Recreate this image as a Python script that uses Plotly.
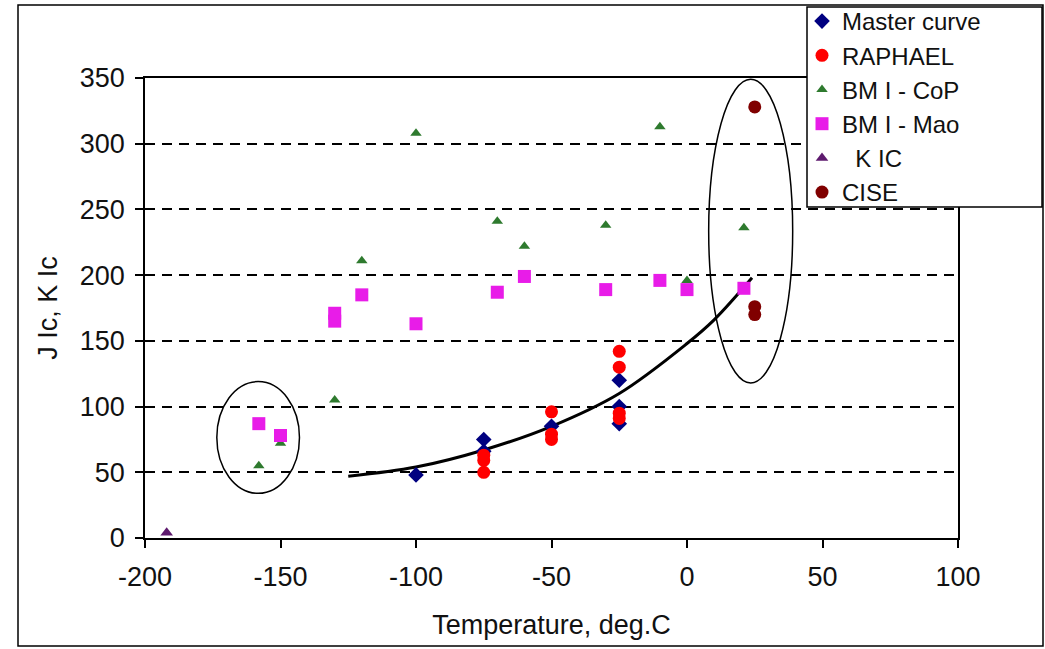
import plotly.graph_objects as go

# ---- data ----
master_x = [-100, -75, -75, -50, -25, -25, -25]
master_y = [48, 75, 66, 85, 120, 100, 87]

raphael_x = [-75, -75, -75, -50, -50, -50, -25, -25, -25, -25]
raphael_y = [50, 59, 63, 96, 79, 75, 142, 130, 95, 91]

cop_x = [-158, -150, -130, -120, -100, -70, -60, -30, -10, 0, 21]
cop_y = [55, 72, 105, 211, 308, 241, 222, 238, 313, 196, 236]

mao_x = [-158, -150, -130, -130, -120, -100, -70, -60, -30, -10, 0, 21]
mao_y = [87, 78, 171, 165, 185, 163, 187, 199, 189, 196, 189, 190]

kic_x = [-192]
kic_y = [4]

cise_x = [25, 25, 25]
cise_y = [328, 176, 170]

curve_x = [-125, -100, -75, -50, -25, 0, 10, 24]
curve_y = [47, 54, 67, 85, 110, 148, 166, 198]

# ellipses (data coords)
ell_left = dict(x0=-173.5, x1=-143, y0=34, y1=119)
ell_right = dict(x0=8, x1=39, y0=118, y1=349)

x_ticks = [-200, -150, -100, -50, 0, 50, 100]
y_ticks = [0, 50, 100, 150, 200, 250, 300, 350]

FONT = "Liberation Sans, Arial, sans-serif"

# pixel -> paper helpers for the plot area (145..958 x, 78..538 y)
def px(xp):
    return (xp - 145) / 813

def py(yp):
    return (538 - yp) / 460

fig = go.Figure()

fig.add_trace(go.Scatter(x=curve_x, y=curve_y, mode="lines",
                         line=dict(color="black", width=3, shape="spline", smoothing=1.0),
                         showlegend=False, hoverinfo="skip"))
fig.add_trace(go.Scatter(x=master_x, y=master_y, mode="markers", name="Master curve",
                         marker=dict(symbol="diamond", size=12, color="#000080")))
fig.add_trace(go.Scatter(x=raphael_x, y=raphael_y, mode="markers", name="RAPHAEL",
                         marker=dict(symbol="circle", size=13, color="#FF0000")))
fig.add_trace(go.Scatter(x=cop_x, y=cop_y, mode="markers", name="BM I - CoP",
                         marker=dict(symbol="triangle-up", size=10, color="#2E7A2E")))
fig.add_trace(go.Scatter(x=mao_x, y=mao_y, mode="markers", name="BM I - Mao",
                         marker=dict(symbol="square", size=13, color="#E81CE8")))
fig.add_trace(go.Scatter(x=kic_x, y=kic_y, mode="markers", name="\u00a0\u00a0K IC",
                         marker=dict(symbol="triangle-up", size=11, color="#5E1A6E")))
fig.add_trace(go.Scatter(x=cise_x, y=cise_y, mode="markers", name="CISE",
                         marker=dict(symbol="circle", size=13, color="#800000")))

shapes = []
for e in (ell_left, ell_right):
    shapes.append(dict(type="circle", xref="x", yref="y", line=dict(color="black", width=1.5),
                       layer="above", **e))
# outer chart frame
shapes.append(dict(type="rect", xref="paper", yref="paper",
                   x0=px(18), x1=px(1043), y0=py(646), y1=py(5),
                   line=dict(color="black", width=1.5)))
# legend box
shapes.append(dict(type="rect", xref="paper", yref="paper", layer="above",
                   x0=px(807), x1=px(1042), y0=py(207), y1=py(7),
                   fillcolor="white", line=dict(color="black", width=1.5)))

fig.update_layout(
    width=1045, height=649, autosize=False,
    margin=dict(l=145, r=87, t=78, b=111, autoexpand=False),
    paper_bgcolor="white", plot_bgcolor="white",
    font=dict(family=FONT, size=27, color="#111111"),
    shapes=shapes,
    legend=dict(x=px(802), y=py(-1), xanchor="left", yanchor="top",
                bgcolor="rgba(0,0,0,0)", borderwidth=0,
                font=dict(size=24), tracegroupgap=0, itemsizing="trace"),
    xaxis=dict(range=[-200, 100], tickvals=x_ticks, ticktext=[str(v) for v in x_ticks],
               showgrid=False, zeroline=False, showline=True, linecolor="black", linewidth=1.5,
               mirror=True, ticks="outside", ticklen=8, tickcolor="black", tickwidth=1.5,
               ticklabelstandoff=6,
               title=dict(text="Temperature, deg.C", standoff=24, font=dict(size=27))),
    yaxis=dict(range=[0, 350], tickvals=y_ticks, ticktext=[str(v) for v in y_ticks],
               showgrid=True, gridcolor="black", gridwidth=1.5, griddash="10px,7px",
               zeroline=False, showline=True, linecolor="black", linewidth=1.5,
               mirror=True, ticks="outside", ticklen=8, tickcolor="black", tickwidth=1.5,
               ticklabelstandoff=5,
               title=dict(text="J Ic, K Ic", standoff=14, font=dict(size=27))),
)

fig.write_html("out.html")
